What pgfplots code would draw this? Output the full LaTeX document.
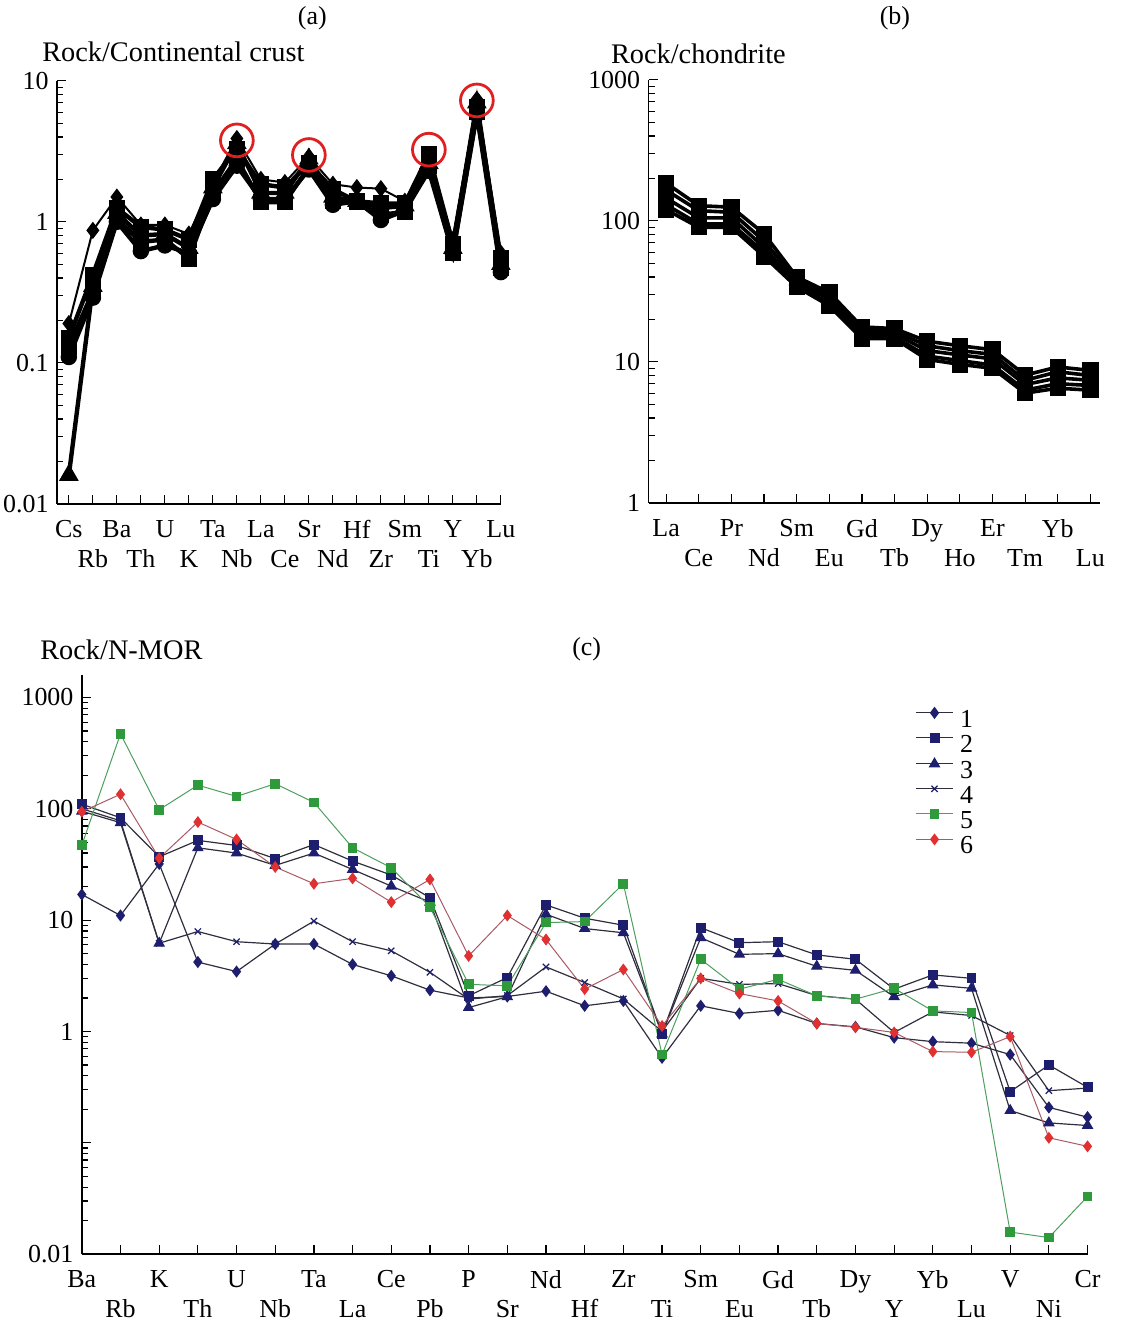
\documentclass[border=0pt]{standalone}
\usepackage{fontspec}
\setmainfont{Liberation Serif}
\usepackage{pgfplots}
\usepackage{pgfplotstable}
\pgfplotsset{compat=1.18}
\definecolor{navy}{HTML}{1E1E6E}
\definecolor{dline}{HTML}{2E2E3E}
\definecolor{gmark}{HTML}{2E9A3C}
\definecolor{gline}{HTML}{4E9E5E}
\definecolor{rmark}{HTML}{E03030}
\definecolor{rline}{HTML}{A85A66}
\definecolor{circ}{HTML}{E02020}
\newcommand{\dn}[1]{\vphantom{Cs}\\#1}
\newcommand{\fs}{\fontsize{13}{15}\selectfont}
\newcommand{\ft}{\fontsize{14.2}{16}\selectfont}

\pgfplotstableread{
x s1 s2 s3 s4 s5
0 0.19 0.15 0.016 0.11 0.13
1 0.87 0.42 0.35 0.29 0.32
2 1.5 1.25 1.15 1.0 1.05
3 0.95 0.92 0.8 0.62 0.72
4 0.95 0.88 0.82 0.68 0.75
5 0.82 0.75 0.65 0.6 0.55
6 1.9 2.0 1.75 1.45 1.6
7 3.9 3.3 3.6 2.5 2.8
8 2.0 1.85 1.6 1.45 1.38
9 1.9 1.75 1.6 1.45 1.38
10 2.9 2.6 2.8 2.35 2.45
11 1.85 1.7 1.5 1.32 1.4
12 1.75 1.4 1.4 1.4 1.38
13 1.72 1.35 1.25 1.03 1.12
14 1.4 1.35 1.3 1.2 1.18
15 2.9 3.0 2.6 2.3 2.5
16 0.75 0.7 0.65 0.6 0.6
17 7.4 6.5 7.0 5.8 6.0
18 0.6 0.55 0.5 0.44 0.47
}\tabA

\pgfplotstableread{
x s1 s2 s3 s4 s5
0 185 165 145 130 120
1 128 118 105 95 90
2 125 115 105 95 90
3 81 72 65 60 56
4 40 38 36 35 34
5 31 29.5 28 26 25
6 17.7 16.8 16.0 15.0 14.6
7 17.2 16.5 15.8 15.0 14.6
8 14 13 12 11 10.4
9 13 12 11.2 10.2 9.6
10 12.2 11.3 10.5 9.5 9.0
11 8.05 7.4 6.9 6.3 6.0
12 9.2 8.5 7.7 7.0 6.5
13 8.7 8.0 7.4 6.8 6.3
}\tabB

\pgfplotstableread{
x s1 s2 s3 s4 s5 s6
0 17 110 95 100 47 94
1 11 83 75 78 471 135
2 32 37 6.2 6.2 98 36
3 4.2 52 44.6 7.9 163 76
4 3.45 46.8 40 6.4 129 53
5 6.1 35.7 31 6.1 168 30
6 6.1 47.7 40 9.8 114 21.2
7 4.0 33.9 28.5 6.4 44.6 23.7
8 3.16 25.4 20.2 5.3 29.5 14.5
9 2.35 15.9 14.5 3.4 13.1 23.2
10 2.0 2.09 1.64 1.95 2.65 4.77
11 2.06 3.05 2.05 2.1 2.57 11.0
12 2.3 13.7 11.3 3.8 9.5 6.7
13 1.7 10.4 8.4 2.75 9.7 2.4
14 1.88 9.0 7.7 1.96 21.2 3.6
15 0.58 0.95 0.95 1.0 0.62 1.12
16 1.7 8.55 6.95 3.0 4.45 3.0
17 1.45 6.27 4.93 2.65 2.4 2.19
18 1.55 6.4 5.0 2.69 2.94 1.88
19 1.18 4.87 3.85 2.1 2.09 1.18
20 1.1 4.45 3.54 1.95 1.95 1.09
21 0.88 2.4 2.05 0.98 2.44 0.98
22 0.81 3.22 2.62 1.5 1.53 0.66
23 0.785 3.0 2.44 1.39 1.48 0.65
24 0.62 0.288 0.195 0.92 0.0158 0.90
25 0.208 0.50 0.151 0.294 0.0141 0.111
26 0.17 0.315 0.143 0.31 0.033 0.093
}\tabC

\pgfplotsset{
  every axis/.append style={
    scale only axis, axis lines*=left,
    tick align=inside, major tick length=4.5pt, minor tick length=3pt,
    every tick/.append style={black, line width=0.6pt},
    axis line style={black, line width=0.8pt},
    font=\fs, ticklabel style={font=\fs},
    /pgf/number format/assume math mode=true,
    xticklabel style={align=center, anchor=north, inner sep=0pt, yshift=-8pt},
    yticklabel style={inner sep=1pt, xshift=-3pt},
    clip=false,
  },
}

\begin{document}
\begin{tikzpicture}
\useasboundingbox (0pt,0pt) rectangle (566.5pt,-663pt);

% ---------- (a)
\begin{semilogyaxis}[at={(28.5pt,-40.5pt)}, anchor=north west,
  width=222.5pt, height=212pt,
  xmin=-0.5, xmax=18, ymin=0.01, ymax=10,
  xtick={0,...,18},
  xticklabels={Cs,{\dn{Rb}},Ba,{\dn{Th}},U,{\dn{K}},Ta,{\dn{Nb}},La,{\dn{Ce}},Sr,{\dn{Nd}},Hf,{\dn{Zr}},Sm,{\dn{Ti}},Y,{\dn{Yb}},Lu},
  ytick={0.01,0.1,1,10}, yticklabels={0.01,0.1,1,10},
  minor ytick={0.02,0.03,0.04,0.05,0.06,0.07,0.08,0.09,0.2,0.3,0.4,0.5,0.6,0.7,0.8,0.9,2,3,4,5,6,7,8,9},
]
\addplot[black, line width=2.2pt, mark options={solid, fill=black, draw=black}, mark=square*, mark size=3pt] table[x=x,y=s5]{\tabA};
\addplot[black, line width=2.2pt, mark options={solid, fill=black, draw=black}, mark=*, mark size=3pt] table[x=x,y=s4]{\tabA};
\addplot[black, line width=2.2pt, mark options={solid, fill=black, draw=black}, mark=triangle*, mark size=3.5pt] table[x=x,y=s3]{\tabA};
\addplot[black, line width=2.2pt, mark options={solid, fill=black, draw=black}, mark=square*, mark size=3pt] table[x=x,y=s2]{\tabA};
\addplot[black, line width=1pt, mark options={solid, fill=black, draw=black}, mark=diamond*, mark size=3.5pt] table[x=x,y=s1]{\tabA};
\addplot[only marks, mark=o, mark size=8.2pt, mark options={draw=circ, line width=1.4pt}] coordinates {(7,3.78) (10,2.98) (15,3.25) (17,7.26)};
\end{semilogyaxis}

% ---------- (b)
\begin{semilogyaxis}[at={(325pt,-40pt)}, anchor=north west,
  width=226pt, height=212pt,
  xmin=-0.54, xmax=13.28, ymin=1, ymax=1000,
  xtick={0,...,13},
  xticklabels={La,{\dn{Ce}},Pr,{\dn{Nd}},Sm,{\dn{Eu}},Gd,{\dn{Tb}},Dy,{\dn{Ho}},Er,{\dn{Tm}},Yb,{\dn{Lu}}},
  ytick={1,10,100,1000}, yticklabels={1,10,100,1000},
  minor ytick={2,3,4,5,6,7,8,9,20,30,40,50,60,70,80,90,200,300,400,500,600,700,800,900},
]
\addplot[black, line width=1.8pt, mark options={solid, fill=black, draw=black}, mark=square*, mark size=3.2pt] table[x=x,y=s1]{\tabB};
\addplot[black, line width=1.8pt, mark options={solid, fill=black, draw=black}, mark=diamond*, mark size=3.5pt] table[x=x,y=s2]{\tabB};
\addplot[black, line width=1.8pt, mark options={solid, fill=black, draw=black}, mark=square*, mark size=3.2pt] table[x=x,y=s3]{\tabB};
\addplot[black, line width=1.8pt, mark options={solid, fill=black, draw=black}, mark=*, mark size=3pt] table[x=x,y=s4]{\tabB};
\addplot[black, line width=1.8pt, mark options={solid, fill=black, draw=black}, mark=square*, mark size=3.2pt] table[x=x,y=s5]{\tabB};
\end{semilogyaxis}

% ---------- (c)
\begin{semilogyaxis}[at={(41pt,-338.5pt)}, anchor=north west,
  width=504pt, height=290pt,
  xmin=0, xmax=26, ymin=0.01, ymax=1574,
  xtick={0,...,26},
  xticklabels={Ba,{\dn{Rb}},K,{\dn{Th}},U,{\dn{Nb}},Ta,{\dn{La}},Ce,{\dn{Pb}},P,{\dn{Sr}},Nd,{\dn{Hf}},Zr,{\dn{Ti}},Sm,{\dn{Eu}},Gd,{\dn{Tb}},Dy,{\dn{Y}},Yb,{\dn{Lu}},V,{\dn{Ni}},Cr},
  ytick={0.01,0.1,1,10,100,1000}, yticklabels={0.01,,1,10,100,1000},
  minor ytick={0.02,0.03,0.04,0.05,0.06,0.07,0.08,0.09,0.2,0.3,0.4,0.5,0.6,0.7,0.8,0.9,2,3,4,5,6,7,8,9,20,30,40,50,60,70,80,90,200,300,400,500,600,700,800,900},
  legend style={draw=none, fill=none, inner sep=0pt, at={(0.828,0.945)}, anchor=north west, row sep=0pt, column sep=0pt,
    nodes={inner sep=0pt, text height=9.5pt, text depth=3pt, font=\fs},
    /tikz/every odd column/.append style={column sep=3pt}},
  legend cell align=left,
  legend image code/.code={\draw[mark repeat=2, mark phase=2, #1] plot coordinates {(0pt,4pt) (9.5pt,4pt) (19pt,4pt)};},
]
\addplot[dline, line width=0.6pt, mark=diamond*, mark size=2.6pt, mark options={solid, fill=navy, draw=navy}] table[x=x,y=s1]{\tabC};
\addlegendentry{1}
\addplot[dline, line width=0.6pt, mark=square*, mark size=2.2pt, mark options={solid, fill=navy, draw=navy}] table[x=x,y=s2]{\tabC};
\addlegendentry{2}
\addplot[dline, line width=0.6pt, mark=triangle*, mark size=2.8pt, mark options={solid, fill=navy, draw=navy}] table[x=x,y=s3]{\tabC};
\addlegendentry{3}
\addplot[dline, line width=0.6pt, mark=x, mark size=2.2pt, mark options={solid, draw=navy}] table[x=x,y=s4]{\tabC};
\addlegendentry{4}
\addplot[gline, line width=0.5pt, mark=square*, mark size=2.2pt, mark options={solid, fill=gmark, draw=gmark}] table[x=x,y=s5]{\tabC};
\addlegendentry{5}
\addplot[rline, line width=0.5pt, mark=diamond*, mark size=2.6pt, mark options={solid, fill=rmark, draw=rmark}] table[x=x,y=s6]{\tabC};
\addlegendentry{6}
\end{semilogyaxis}

\node[font=\fs] at (156.5pt,-9pt) {(a)};
\node[font=\fs] at (448.5pt,-9pt) {(b)};
\node[font=\fs] at (294pt,-325.5pt) {(c)};
\node[font=\ft, anchor=west, inner sep=0pt] at (21pt,-26pt) {Rock/Continental crust};
\node[font=\ft, anchor=west, inner sep=0pt] at (306pt,-27pt) {Rock/chondrite};
\node[font=\ft, anchor=west, inner sep=0pt] at (20pt,-325.5pt) {Rock/N-MOR};
\end{tikzpicture}
\end{document}
